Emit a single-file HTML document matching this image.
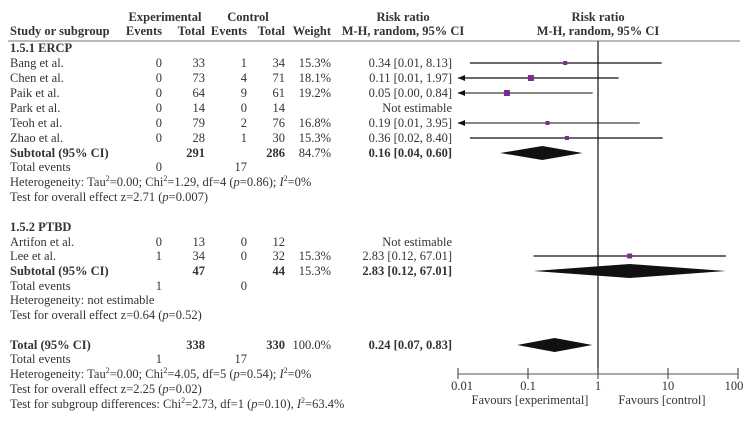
<!DOCTYPE html>
<html><head><meta charset="utf-8"><style>
html,body{margin:0;padding:0;background:#fff;}
svg{display:block;font-family:"Liberation Serif",serif;font-size:12.5px;fill:#333;}
.b{font-weight:bold;}
</style></head><body>
<svg id="plot" width="753" height="423" viewBox="0 0 753 423">
<g id="txt"></g><g id="marks"></g>
</svg>
<script>
// ---- data ----
const studies = ["Bang et al.","Chen et al.","Paik et al.","Park et al.","Teoh et al.","Zhao et al.","Artifon et al.","Lee et al."];
const expEvents = [0,0,0,0,0,0,0,1];
const expTotal = [33,73,64,14,79,28,13,34];
const ctlEvents = [1,4,9,0,2,1,0,0];
const ctlTotal = [34,71,61,14,76,30,12,32];
const weights = ["15.3%","18.1%","19.2%","","16.8%","15.3%","","15.3%"];
const rr = [0.34,0.11,0.05,null,0.19,0.36,null,2.83];
const ciLo = [0.0148,0.005,0.002,null,0.005,0.0148,null,0.12];
const ciHi = [8.13,1.97,0.84,null,3.95,8.40,null,67.01];
const rrLabels = ["0.34 [0.01, 8.13]","0.11 [0.01, 1.97]","0.05 [0.00, 0.84]","Not estimable","0.19 [0.01, 3.95]","0.36 [0.02, 8.40]","Not estimable","2.83 [0.12, 67.01]"];
const markerSize = [4,6,6,0,4,4,0,5];
const lineGray = [false,false,true,false,true,false,false,false];
const rowY = [63,78,93,108,123,138,242,256];
const pooledEst = [0.16,2.83,0.24];
const pooledLo = [0.04,0.12,0.07];
const pooledHi = [0.60,67.01,0.83];
const pooledY = [153,271,345];
const ticks = [0.01,0.1,1,10,100];
const tickLabels = ["0.01","0.1","1","10","100"];
// ---- scale ----
const x = v => 598 + 70*Math.log10(v);
const NS="http://www.w3.org/2000/svg";
const T=document.getElementById('txt'), M=document.getElementById('marks');
function el(tag,attrs,parent){const e=document.createElementNS(NS,tag);for(const k in attrs)e.setAttribute(k,attrs[k]);parent.appendChild(e);return e;}
function txt(s,xx,y,anchor,bold,name){const e=el('text',{x:xx,y:y+4,'text-anchor':anchor||'start'},T);if(bold)e.setAttribute('class','b');e.innerHTML=s;

return e;}
// headers
txt("Experimental",165,17,'middle',1,'header-experimental');
txt("Control",248,17,'middle',1,'header-control');
txt("Risk ratio",403,17,'middle',1,'header-risk-ratio');
txt("Risk ratio",598,17,'middle',1,'header-risk-ratio-plot');
txt("Study or subgroup",10,31,'start',1,'header-study');
txt("Events",162,31,'end',1,'header-exp-events');
txt("Total",205,31,'end',1,'header-exp-total');
txt("Events",247,31,'end',1,'header-ctl-events');
txt("Total",285,31,'end',1,'header-ctl-total');
txt("Weight",331,31,'end',1,'header-weight');
txt("M-H, random, 95% CI",403,31,'middle',1,'header-method');
txt("M-H, random, 95% CI",598,31,'middle',1,'header-method-plot');
let hr=el('line',{x1:8,y1:41,x2:740,y2:41,stroke:'#777','stroke-width':1},M);

txt("1.5.1 ERCP",10,48,'start',1,'subgroup-ercp');
txt("1.5.2 PTBD",10,227,'start',1,'subgroup-ptbd');
// study rows
studies.forEach((s,i)=>{const y=rowY[i];
 txt(s,10,y,'start',0,'study-name');
 txt(expEvents[i],162,y,'end',0,'exp-events');
 txt(expTotal[i],205,y,'end',0,'exp-total');
 txt(ctlEvents[i],247,y,'end',0,'ctl-events');
 txt(ctlTotal[i],285,y,'end',0,'ctl-total');
 txt(weights[i],331,y,'end',0,'weight');
 txt(rrLabels[i],452,y,'end',0,'risk-ratio-ci');
 if(rr[i]!=null){
  const col=lineGray[i]?'#888':'#111';
  let lo=Math.max(x(ciLo[i]),458), hi=Math.min(x(ciHi[i]),738);
  const ln=el('line',{x1:lo,y1:y,x2:hi,y2:y,stroke:col,'stroke-width':lineGray[i]?2:1.2},M);
  
  if(x(ciLo[i])<458){const a=el('polygon',{points:`458,${y} 465,${y-3} 465,${y+3}`,fill:'#111'},M);
   }
  const sz=markerSize[i];
  const r=el('rect',{x:x(rr[i])-sz/2,y:y-sz/2,width:sz,height:sz,fill:'#7b2d8e'},M);
  
 }
});
// subtotals / totals
txt("Subtotal (95% CI)",10,153,'start',1,'subtotal-ercp');
txt("291",205,153,'end',1,'subtotal-exp');txt("286",285,153,'end',1,'subtotal-ctl');
txt("84.7%",331,153,'end',0,'subtotal-weight');txt("0.16 [0.04, 0.60]",452,153,'end',1,'subtotal-rr');
txt("Total events",10,167,'start',0,'total-events');txt("0",162,167,'end',0,'te-exp');txt("17",247,167,'end',0,'te-ctl');
txt("Heterogeneity: Tau<tspan dy='-5' font-size='8'>2</tspan><tspan dy='5'>=0.00; Chi</tspan><tspan dy='-5' font-size='8'>2</tspan><tspan dy='5'>=1.29, df=4 (</tspan><tspan font-style='italic'>p</tspan>=0.86); <tspan font-style='italic'>I</tspan><tspan dy='-5' font-size='8'>2</tspan><tspan dy='5'>=0%</tspan>",10,182,'start',0,'heterogeneity-ercp');
txt("Test for overall effect z=2.71 (<tspan font-style='italic'>p</tspan>=0.007)",10,197,'start',0,'overall-effect-ercp');
txt("Subtotal (95% CI)",10,271,'start',1,'subtotal-ptbd');
txt("47",205,271,'end',1,'subtotal-exp');txt("44",285,271,'end',1,'subtotal-ctl');
txt("15.3%",331,271,'end',0,'subtotal-weight');txt("2.83 [0.12, 67.01]",452,271,'end',1,'subtotal-rr');
txt("Total events",10,286,'start',0,'total-events');txt("1",162,286,'end',0,'te-exp');txt("0",247,286,'end',0,'te-ctl');
txt("Heterogeneity: not estimable",10,300,'start',0,'heterogeneity-ptbd');
txt("Test for overall effect z=0.64 (<tspan font-style='italic'>p</tspan>=0.52)",10,315,'start',0,'overall-effect-ptbd');
txt("Total (95% CI)",10,345,'start',1,'total-label');
txt("338",205,345,'end',1,'total-exp');txt("330",285,345,'end',1,'total-ctl');
txt("100.0%",331,345,'end',0,'total-weight');txt("0.24 [0.07, 0.83]",452,345,'end',1,'total-rr');
txt("Total events",10,359,'start',0,'total-events');txt("1",162,359,'end',0,'te-exp');txt("17",247,359,'end',0,'te-ctl');
txt("Heterogeneity: Tau<tspan dy='-5' font-size='8'>2</tspan><tspan dy='5'>=0.00; Chi</tspan><tspan dy='-5' font-size='8'>2</tspan><tspan dy='5'>=4.05, df=5 (</tspan><tspan font-style='italic'>p</tspan>=0.54); <tspan font-style='italic'>I</tspan><tspan dy='-5' font-size='8'>2</tspan><tspan dy='5'>=0%</tspan>",10,374,'start',0,'heterogeneity-total');
txt("Test for overall effect z=2.25 (<tspan font-style='italic'>p</tspan>=0.02)",10,389,'start',0,'overall-effect-total');
txt("Test for subgroup differences: Chi<tspan dy='-5' font-size='8'>2</tspan><tspan dy='5'>=2.73, df=1 (</tspan><tspan font-style='italic'>p</tspan>=0.10), <tspan font-style='italic'>I</tspan><tspan dy='-5' font-size='8'>2</tspan><tspan dy='5'>=63.4%</tspan>",10,404,'start',0,'subgroup-differences');
// diamonds
pooledEst.forEach((v,i)=>{const y=pooledY[i];
 const d=el('polygon',{points:`${x(pooledLo[i])},${y} ${x(v)},${y-7} ${x(pooledHi[i])},${y} ${x(v)},${y+7}`,fill:'#111'},M);
 });
// reference line
const vl=el('line',{x1:x(1),y1:41,x2:x(1),y2:374,stroke:'#111','stroke-width':1.2},M);

// axis
const ax=el('line',{x1:x(0.01),y1:374,x2:x(100),y2:374,stroke:'#555','stroke-width':1},M);

ticks.forEach((t,i)=>{const tk=el('line',{x1:x(t),y1:368,x2:x(t),y2:379,stroke:'#555','stroke-width':1.2},M);
 
 txt(tickLabels[i],x(t)+(i==0?4:i==4?-4:0),386,'middle',0,'x-tick-label');});
txt("Favours [experimental]",530,400,'middle',0,'favours-experimental');
txt("Favours [control]",662,400,'middle',0,'favours-control');
</script>
</body></html>
